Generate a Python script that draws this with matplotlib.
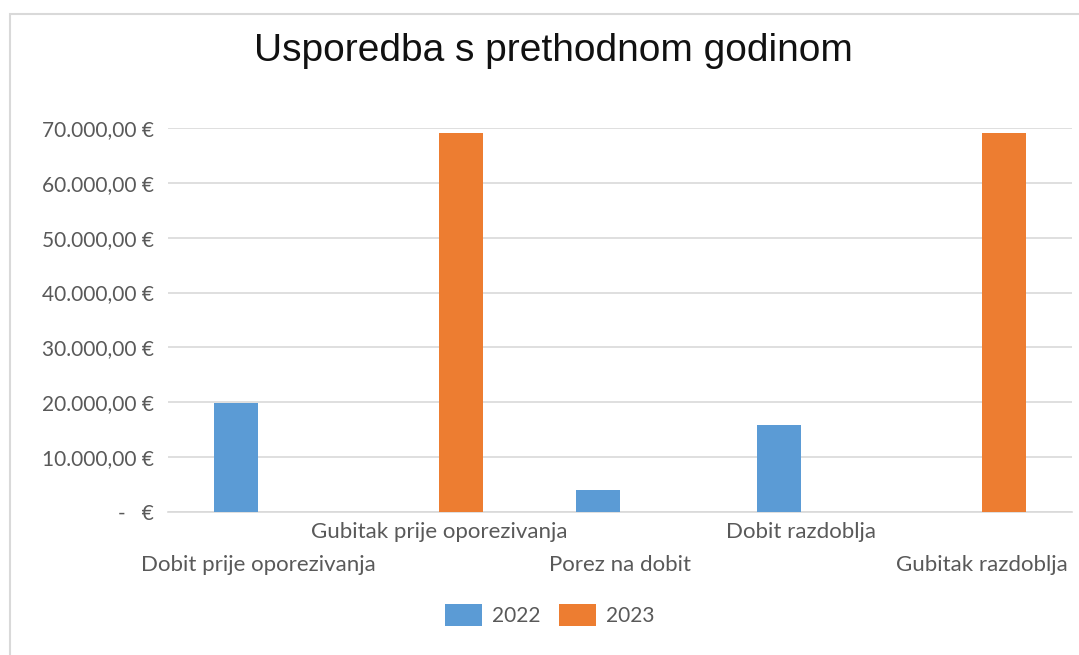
import matplotlib.pyplot as plt
import matplotlib.ticker as mticker
from matplotlib.patches import Rectangle
import numpy as np

# podaci
kategorije = ["Dobit prije oporezivanja", "Gubitak prije oporezivanja",
              "Porez na dobit", "Dobit razdoblja", "Gubitak razdoblja"]
godine = ["2022", "2023"]
v2022 = [19900, 0, 4050, 15900, 0]
v2023 = [0, 69100, 0, 0, 69100]
boje = ["#5B9BD5", "#ED7D31"]

plt.rcParams['font.family'] = ['Lato', 'DejaVu Sans']

fig = plt.figure(figsize=(10.79, 6.55), dpi=100)
ax = fig.add_axes([0.1557, 0.2183, 0.8378, 0.5863])

x = np.arange(len(kategorije))
w = 0.243
ax.bar(x - w / 2, v2022, w, color=boje[0], label=godine[0], zorder=3)
ax.bar(x + w / 2, v2023, w, color=boje[1], label=godine[1], zorder=3)

ax.set_xlim(-0.5, len(kategorije) - 0.5)
ax.set_ylim(0, 70000)
ax.yaxis.set_major_locator(mticker.MultipleLocator(10000))


def euro(v, pos):
    if v == 0:
        return "-   €"
    s = f"{v:,.2f}".replace(",", "X").replace(".", ",").replace("X", ".")
    return s + " €"


ax.yaxis.set_major_formatter(mticker.FuncFormatter(euro))
ax.grid(axis='y', color='#D9D9D9', linewidth=1.2, zorder=0)
for s in ['top', 'right', 'left']:
    ax.spines[s].set_visible(False)
ax.spines['bottom'].set_color('#D9D9D9')
ax.spines['bottom'].set_linewidth(1.2)
ax.tick_params(axis='both', length=0, labelcolor='#595959')
ax.tick_params(axis='y', pad=10, labelsize=15)
ax.tick_params(axis='x', labelsize=16)

ax.set_xticks(x)
ax.set_xticklabels(kategorije)
# naizmjenicni redovi oznaka kao u Excelu
for i, t in enumerate(ax.xaxis.get_major_ticks()):
    t.set_pad(31 if i % 2 == 0 else 7)

fig.text(0.513, 0.922, "Usporedba s prethodnom godinom", ha='center', va='center',
         fontsize=28, family='Liberation Sans', color='#111111')

leg = ax.legend(loc='center', bbox_to_anchor=(0.4226, -0.268), ncol=2, frameon=False,
                fontsize=15, handlelength=1.75, handleheight=1.3, columnspacing=0.9,
                handletextpad=0.5)
for txt in leg.get_texts():
    txt.set_color('#595959')

# okvir grafikona
fig.patches.append(Rectangle((10 / 1079, -0.1), 1.2, 1 - 14 / 655 + 0.1,
                             transform=fig.transFigure, fill=False,
                             edgecolor='#D9D9D9', linewidth=1.5))

fig.savefig("out.png", dpi=100)
